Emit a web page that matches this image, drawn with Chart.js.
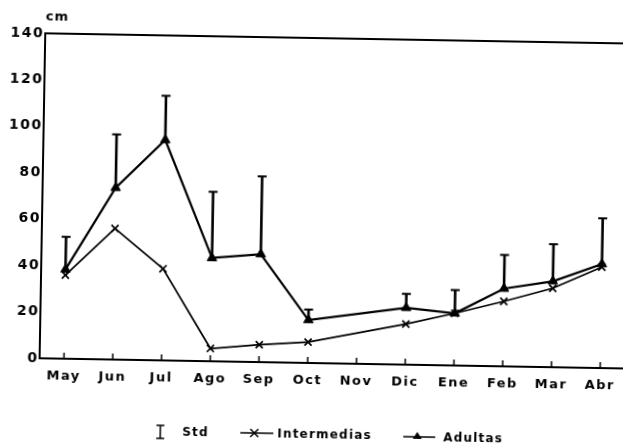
<!DOCTYPE html>
<html>
<head>
<meta charset="utf-8">
<style>
  html, body { margin: 0; padding: 0; background: #fff; overflow: hidden; width: 623px; height: 445px; }
  #wrap { position: absolute; left: 0; top: 0; width: 650px; height: 445px;
          transform-origin: 311.5px 222.5px; transform: rotate(1deg); }
  canvas { display: block; }
</style>
<script src="https://cdn.jsdelivr.net/npm/chart.js@4/dist/chart.umd.min.js"></script>
</head>
<body>
<div id="wrap"><canvas id="c" width="650" height="445"></canvas></div>
<script>
// Monthly length (cm): intermediate and adult groups, with standard deviation for adults
const months = ['May', 'Jun', 'Jul', 'Ago', 'Sep', 'Oct', 'Nov', 'Dic', 'Ene', 'Feb', 'Mar', 'Abr'];
const intermedias = [36, 56.5, 39.5, 5.5, 7.5, 9, null, 17.5, 22.5, 28, 34, 43.5];
const adultas = [38.5, 74, 95, 44.5, 46.5, 18.5, null, 24.5, 22.5, 33.5, 37, 44.8];
const adultasStd = [14, 23, 19, 28.5, 33.5, 4.5, null, 6, 10, 14.5, 16, 19.7];
const yTicks = [0, 20, 40, 60, 80, 100, 120, 140];
const unitLabel = 'cm';
const legendLabels = ['Std', 'Intermedias', 'Adultas'];

const FONT = 'DejaVu Sans';
const INK = '#000';

// Wide-set lettering for the axis labels
const letterSpacingPlugin = {
  id: 'letterSpacing',
  beforeDraw(chart) { chart.ctx.letterSpacing = '1.5px'; }
};

// Upward standard-deviation whiskers on the adult series
const errorBars = {
  id: 'errorBars',
  beforeDatasetsDraw(chart) {
    const { ctx, scales: { x, y } } = chart;
    ctx.save();
    ctx.strokeStyle = INK;
    ctx.lineCap = 'butt';
    adultas.forEach((v, i) => {
      const sd = adultasStd[i];
      if (v == null || sd == null) return;
      const px = x.getPixelForValue(i);
      const y0 = y.getPixelForValue(v);
      const y1 = y.getPixelForValue(v + sd);
      ctx.lineWidth = 2.6;
      ctx.beginPath(); ctx.moveTo(px, y0); ctx.lineTo(px, y1); ctx.stroke();
      ctx.lineWidth = 2;
      ctx.beginPath(); ctx.moveTo(px - 4.5, y1); ctx.lineTo(px + 4.5, y1); ctx.stroke();
    });
    ctx.restore();
  }
};

// Frame top line, inward tick marks, unit label and legend
const frameAndLegend = {
  id: 'frameAndLegend',
  afterDraw(chart) {
    const { ctx, chartArea: a, scales: { x } } = chart;
    ctx.save();
    ctx.strokeStyle = INK;
    ctx.fillStyle = INK;

    // top frame line
    ctx.lineWidth = 2;
    ctx.beginPath(); ctx.moveTo(a.left - 1, a.top); ctx.lineTo(chart.width, a.top); ctx.stroke();

    // tick marks on the x axis, pointing into the plot
    ctx.lineWidth = 1.5;
    months.forEach((m, i) => {
      const px = x.getPixelForValue(i);
      ctx.beginPath(); ctx.moveTo(px, a.bottom); ctx.lineTo(px, a.bottom - 6); ctx.stroke();
    });

    // unit label above the y axis
    ctx.letterSpacing = '1px';
    ctx.font = 'bold 13px "' + FONT + '"';
    ctx.textAlign = 'center';
    ctx.textBaseline = 'middle';
    ctx.fillText(unitLabel, a.left + 12, a.top - 16);

    // legend
    const ly = 435;
    ctx.font = 'bold 12px "' + FONT + '"';
    ctx.letterSpacing = '1.2px';
    ctx.textAlign = 'left';

    // Std symbol: whisker with both caps
    const sx = 164;
    ctx.lineWidth = 1.5;
    ctx.beginPath(); ctx.moveTo(sx, ly - 7); ctx.lineTo(sx, ly + 6); ctx.stroke();
    ctx.beginPath(); ctx.moveTo(sx - 4, ly - 7); ctx.lineTo(sx + 4, ly - 7); ctx.stroke();
    ctx.beginPath(); ctx.moveTo(sx - 4, ly + 6); ctx.lineTo(sx + 4, ly + 6); ctx.stroke();
    ctx.fillText(legendLabels[0], 186, ly);

    // Intermedias symbol: line with a cross
    ctx.lineWidth = 1.5;
    ctx.beginPath(); ctx.moveTo(244, ly - 1); ctx.lineTo(277, ly - 1); ctx.stroke();
    const cx = 258;
    ctx.beginPath();
    ctx.moveTo(cx - 4, ly - 5); ctx.lineTo(cx + 4, ly + 3);
    ctx.moveTo(cx + 4, ly - 5); ctx.lineTo(cx - 4, ly + 3);
    ctx.stroke();
    ctx.fillText(legendLabels[1], 281, ly);

    // Adultas symbol: line with a filled triangle
    ctx.beginPath(); ctx.moveTo(407, ly); ctx.lineTo(439, ly); ctx.stroke();
    const tx = 421;
    ctx.beginPath();
    ctx.moveTo(tx, ly - 5); ctx.lineTo(tx + 4.5, ly + 2); ctx.lineTo(tx - 4.5, ly + 2); ctx.closePath();
    ctx.fill();
    ctx.fillText(legendLabels[2], 447, ly + 1);

    ctx.restore();
  }
};

new Chart(document.getElementById('c'), {
  type: 'line',
  data: {
    labels: months,
    datasets: [
      {
        label: legendLabels[1],
        data: intermedias,
        borderColor: INK,
        borderWidth: 1.7,
        pointStyle: 'crossRot',
        pointRadius: 5,
        pointBorderWidth: 1.7,
        pointBorderColor: INK,
        pointBackgroundColor: INK,
        spanGaps: true,
        tension: 0,
        fill: false
      },
      {
        label: legendLabels[2],
        data: adultas,
        borderColor: INK,
        borderWidth: 2.2,
        pointStyle: 'triangle',
        pointRadius: 5.5,
        pointBorderWidth: 1,
        pointBorderColor: INK,
        pointBackgroundColor: INK,
        spanGaps: true,
        tension: 0,
        fill: false
      }
    ]
  },
  options: {
    responsive: false,
    animation: false,
    devicePixelRatio: 1,
    layout: { padding: { left: 0, top: 38, right: 23, bottom: 0 } },
    plugins: { legend: { display: false }, tooltip: { enabled: false } },
    scales: {
      x: {
        type: 'category',
        offset: true,
        grid: { display: true, drawOnChartArea: false, drawTicks: false },
        border: { display: true, color: INK, width: 2 },
        ticks: { color: INK, font: { family: FONT, size: 13, weight: 'bold' }, padding: 10, maxRotation: 0, autoSkip: false },
        afterFit(s) { s.height = 82; }
      },
      y: {
        min: 0,
        max: 140,
        grid: { display: true, drawOnChartArea: false, drawTicks: false },
        border: { display: true, color: INK, width: 2 },
        ticks: { color: INK, font: { family: FONT, size: 14, weight: 'bold' }, padding: 1 },
        afterBuildTicks(s) { s.ticks = yTicks.map(v => ({ value: v })); },
        afterFit(s) { s.width = 42; }
      }
    }
  },
  plugins: [letterSpacingPlugin, errorBars, frameAndLegend]
});
</script>
</body>
</html>
